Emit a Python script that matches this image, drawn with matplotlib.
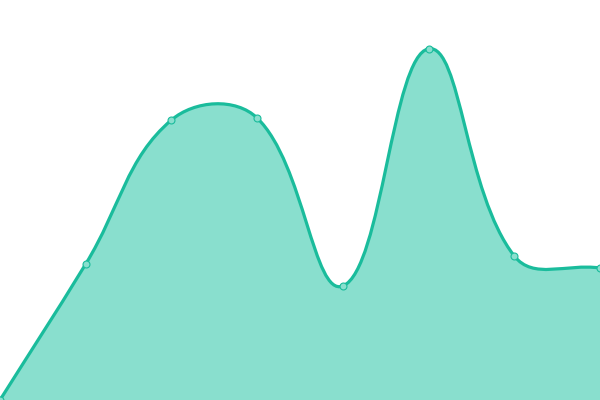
import numpy as np
import matplotlib
matplotlib.use("Agg")
import matplotlib.pyplot as plt
from matplotlib.path import Path
from matplotlib.patches import PathPatch

labels = ["A", "B", "C", "D", "E", "F", "G", "H"]
values = [0, 34, 70, 70.5, 28.5, 87.8, 36, 33]

line_color = "#1abc9c"
fill_color = "#89dfce"

fig = plt.figure(figsize=(6, 4), dpi=100)
ax = fig.add_axes([0, 0, 1, 1])
n = len(values)
xs = np.arange(n, dtype=float)
ys = np.array(values, dtype=float)
ax.set_xlim(0, n - 1)
ax.set_ylim(0, 100)

# pixel scaling for chart.js-like spline (tension 0.4)
sx = 600 / (n - 1)
sy = 400 / 100
P = np.column_stack([xs * sx, ys * sy])
t = 0.4
cps = []
for i in range(n):
    prev = P[max(i - 1, 0)]
    cur = P[i]
    nxt = P[min(i + 1, n - 1)]
    d01 = np.hypot(*(cur - prev))
    d12 = np.hypot(*(nxt - cur))
    tot = d01 + d12
    s01 = d01 / tot if tot else 0
    s12 = d12 / tot if tot else 0
    fa = t * s01
    fb = t * s12
    c1 = cur - fa * (nxt - prev)
    c2 = cur + fb * (nxt - prev)
    c1 = np.clip(c1, [0, 0], [600, 400])
    c2 = np.clip(c2, [0, 0], [600, 400])
    cps.append((c1, c2))

verts = [P[0]]
codes = [Path.MOVETO]
for i in range(n - 1):
    verts += [cps[i][1], cps[i + 1][0], P[i + 1]]
    codes += [Path.CURVE4] * 3
verts = np.array(verts) / [sx, sy]

line_path = Path(verts, codes)
fill_verts = np.vstack([verts, [[xs[-1], 0], [xs[0], 0], verts[0]]])
fill_codes = codes + [Path.LINETO, Path.LINETO, Path.CLOSEPOLY]
ax.add_patch(PathPatch(Path(fill_verts, fill_codes), facecolor=fill_color, edgecolor="none"))
ax.add_patch(PathPatch(line_path, facecolor="none", edgecolor=line_color, lw=2.3))
ax.plot(xs, ys, "o", ms=5, mfc=fill_color, mec=line_color, mew=0.8, clip_on=True)

ax.axis("off")
fig.savefig("out.png", dpi=100)
